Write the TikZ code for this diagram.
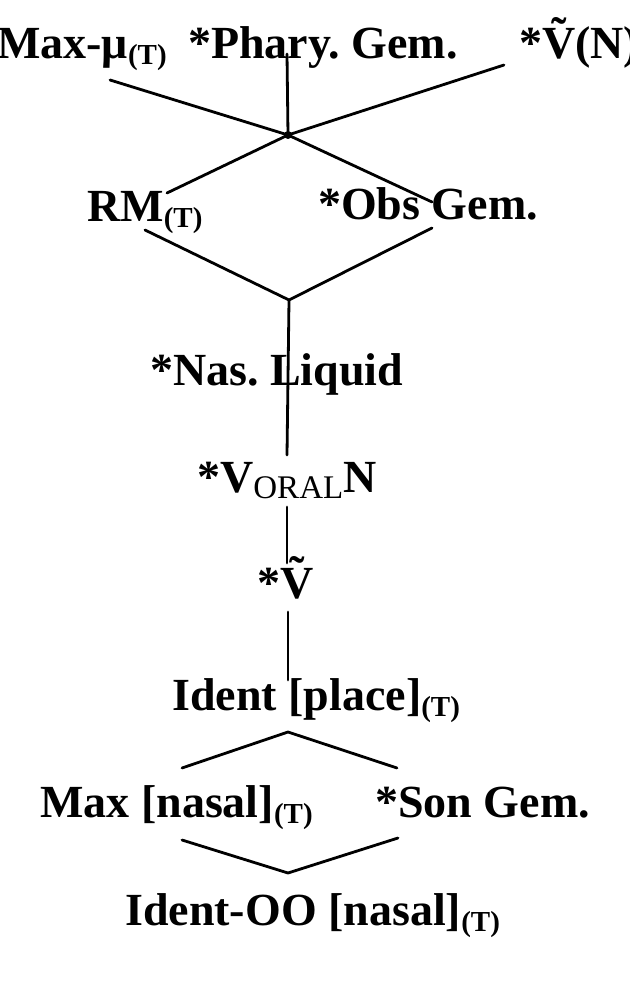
\documentclass[tikz,border=0pt]{standalone}
\usepackage{fontspec}
\setmainfont{Liberation Serif}
\frenchspacing
\newcommand{\subT}{\raisebox{-6pt}{\fontsize{29}{30}\selectfont(T)}}
\newcommand{\subORAL}{\raisebox{-6pt}{\mdseries\fontsize{33}{34}\selectfont ORAL}}
\newcommand{\Vtil}{\leavevmode\setbox0\hbox{V}\makebox[\wd0][c]{\raisebox{0.2em}{\char"02DC}}\kern-\wd0\box0}
\tikzset{
  lbl/.style={anchor=base west, inner sep=0pt, font=\bfseries\fontsize{46}{50}\selectfont},
  edge/.style={line width=2.8pt, line cap=round, line join=round}
}
\begin{document}
\begin{tikzpicture}[x=1pt,y=-1pt]
\useasboundingbox (0,0) rectangle (629,1000);
% labels
\node[lbl] (maxmu) at (-3,59) {Max-μ\subT};
\node[lbl] (phary) at (188,59) {*Phary. Gem.};
\node[lbl] (vtn) at (519,59) {*\Vtil(N)};
\node[lbl] (rm) at (87,222) {RM\subT};
\node[lbl] (obs) at (318,220) {*Obs Gem.};
\node[lbl] (nas) at (150,385) {*Nas. Liquid};
\node[lbl] (voraln) at (197,492) {*V\subORAL N};
\node[lbl] (vt) at (257,598) {*\Vtil};
\node[lbl] (identpl) at (172,710) {Ident [place]\subT};
\node[lbl] (maxnas) at (40,817) {Max [nasal]\subT};
\node[lbl] (songem) at (375,817) {*Son Gem.};
\node[lbl] (identoo) at (125,925) {Ident-OO [nasal]\subT};
% junctions and line ends
\coordinate (hub) at (288,135);
\coordinate (maxmuE) at (110,80);
\coordinate (pharyE) at (287,54);
\coordinate (vtnE) at (504,65);
\coordinate (rmN) at (167,193);
\coordinate (obsN) at (432,202);
\coordinate (rmS) at (145,230);
\coordinate (obsS) at (432,228);
\coordinate (j2) at (289,300);
\coordinate (nasE) at (287,455);
\coordinate (voralS) at (287,507);
\coordinate (vtN) at (287,563);
\coordinate (vtS) at (288,612);
\coordinate (identN) at (288,680);
\coordinate (j3) at (288,732);
\coordinate (maxN) at (182,768);
\coordinate (sonN) at (397,768);
\coordinate (maxS) at (182,840);
\coordinate (sonS) at (398,838);
\coordinate (j4) at (288,873);
% connectors
\draw[edge] (maxmuE) -- (hub);
\draw[edge] (pharyE) -- (hub);
\draw[edge] (vtnE) -- (hub);
\draw[edge] (hub) -- (rmN);
\draw[edge] (hub) -- (obsN);
\fill (hub) circle (4);
\draw[edge] (rmS) -- (j2) -- (obsS);
\draw[edge] (j2) -- (nasE);
\draw[edge] (voralS) -- (vtN);
\draw[edge] (vtS) -- (identN);
\draw[edge] (maxN) -- (j3) -- (sonN);
\draw[edge] (maxS) -- (j4) -- (sonS);
\end{tikzpicture}
\end{document}
